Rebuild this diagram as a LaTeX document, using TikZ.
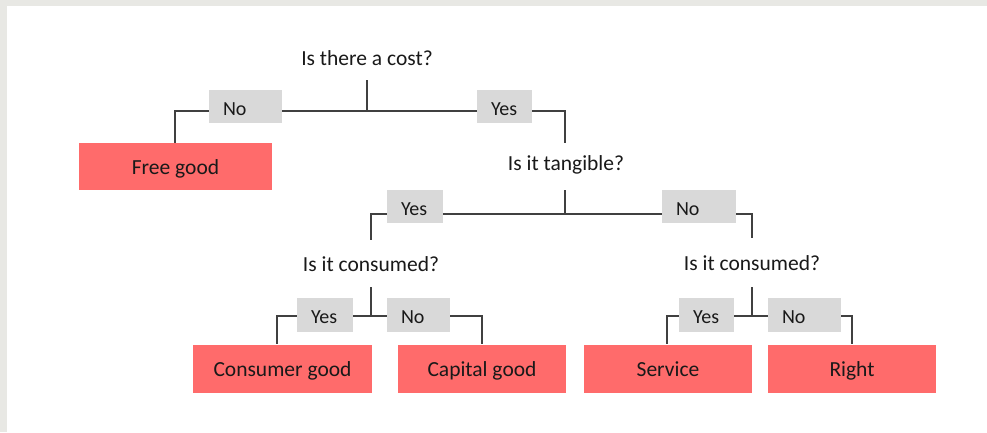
\documentclass[tikz,border=0pt]{standalone}
\usepackage{fontspec}
\setmainfont{Carlito}
\definecolor{redbox}{HTML}{FF6B6B}
\definecolor{graybox}{HTML}{D9D9D9}
\definecolor{linec}{HTML}{404040}
\definecolor{bandc}{HTML}{E8E8E4}
\begin{document}
\begin{tikzpicture}[x=1pt,y=-1pt,
  qtext/.style={anchor=base, inner sep=0pt, font=\fontsize{21.5}{26}\selectfont, text=black!90},
  res/.style={fill=redbox, draw=none, inner sep=0pt, font=\fontsize{21.5}{26}\selectfont, text=black!90, text height=16.4pt, text depth=0pt, minimum height=48pt},
  lab/.style={fill=graybox, draw=none, inner xsep=14pt, inner ysep=0pt, align=left, font=\fontsize{20}{24}\selectfont, text=black!90, text height=17.9pt, text depth=0pt, minimum height=33.5pt},
  conn/.style={draw=linec, line width=1.8pt}]
\useasboundingbox (0,0) rectangle (987,432);
\fill[white] (0,0) rectangle (987,432);
\fill[bandc] (0,0) rectangle (987,5.5);
\fill[bandc] (0,0) rectangle (7,432);

% questions
\node[qtext] (q1) at (367,65) {Is there a cost?};
\node[qtext] (q2) at (566,170) {Is it tangible?};
\node[qtext] (q3) at (371,271.5) {Is it consumed?};
\node[qtext] (q4) at (752,270.5) {Is it consumed?};

% labels
\node[lab, text width=45pt] (l1) at (245.5,106.5) {No};
\node[lab, text width=27pt] (l2) at (504.5,106.5) {Yes};
\node[lab, text width=28pt] (l3) at (415,206.5) {Yes};
\node[lab, text width=46pt] (l4) at (699,206.5) {No};
\node[lab, text width=28pt] (l5) at (325,315) {Yes};
\node[lab, text width=35pt] (l6) at (418.5,315) {No};
\node[lab, text width=27pt] (l7) at (706.5,315) {Yes};
\node[lab, text width=45pt] (l8) at (804.5,315) {No};

% results
\node[res, minimum width=193pt, minimum height=47pt] (r1) at (175.5,166.5) {Free good};
\node[res, minimum width=179pt] (r2) at (282.5,368.5) {Consumer good};
\node[res, minimum width=168pt] (r3) at (482,368.5) {Capital good};
\node[res, minimum width=168pt] (r4) at (668,368.5) {Service};
\node[res, minimum width=168pt] (r5) at (852,368.5) {Right};

% junctions
\coordinate (s1) at (367,80);
\coordinate (j1) at (367,111);
\coordinate (t2) at (565,143);
\coordinate (s2) at (565,190);
\coordinate (j2) at (565,214);
\coordinate (t3) at (371,240);
\coordinate (t4) at (752,238);
\coordinate (s3) at (371,287);
\coordinate (j3) at (371,316);
\coordinate (s4) at (752,287);
\coordinate (j4) at (752,316);

% connectors
\draw[conn] (s1) -- (j1);
\draw[conn] (l1.east |- j1) -- (l2.west |- j1);
\draw[conn] (l1.west |- j1) -| ([xshift=-0.5pt]r1.north);
\draw[conn] (l2.east |- j1) -| (t2);

\draw[conn] (s2) -- (j2);
\draw[conn] (l3.east |- j2) -- (l4.west |- j2);
\draw[conn] (l3.west |- j2) -| (t3);
\draw[conn] (l4.east |- j2) -| (t4);

\draw[conn] (s3) -- (j3);
\draw[conn] (l5.east |- j3) -- (l6.west |- j3);
\draw[conn] (l5.west |- j3) -| ([xshift=-5.5pt]r2.north);
\draw[conn] (l6.east |- j3) -| (r3.north);

\draw[conn] (s4) -- (j4);
\draw[conn] (l7.east |- j4) -- (l8.west |- j4);
\draw[conn] (l7.west |- j4) -| ([xshift=-1pt]r4.north);
\draw[conn] (l8.east |- j4) -| (r5.north);
\end{tikzpicture}
\end{document}
